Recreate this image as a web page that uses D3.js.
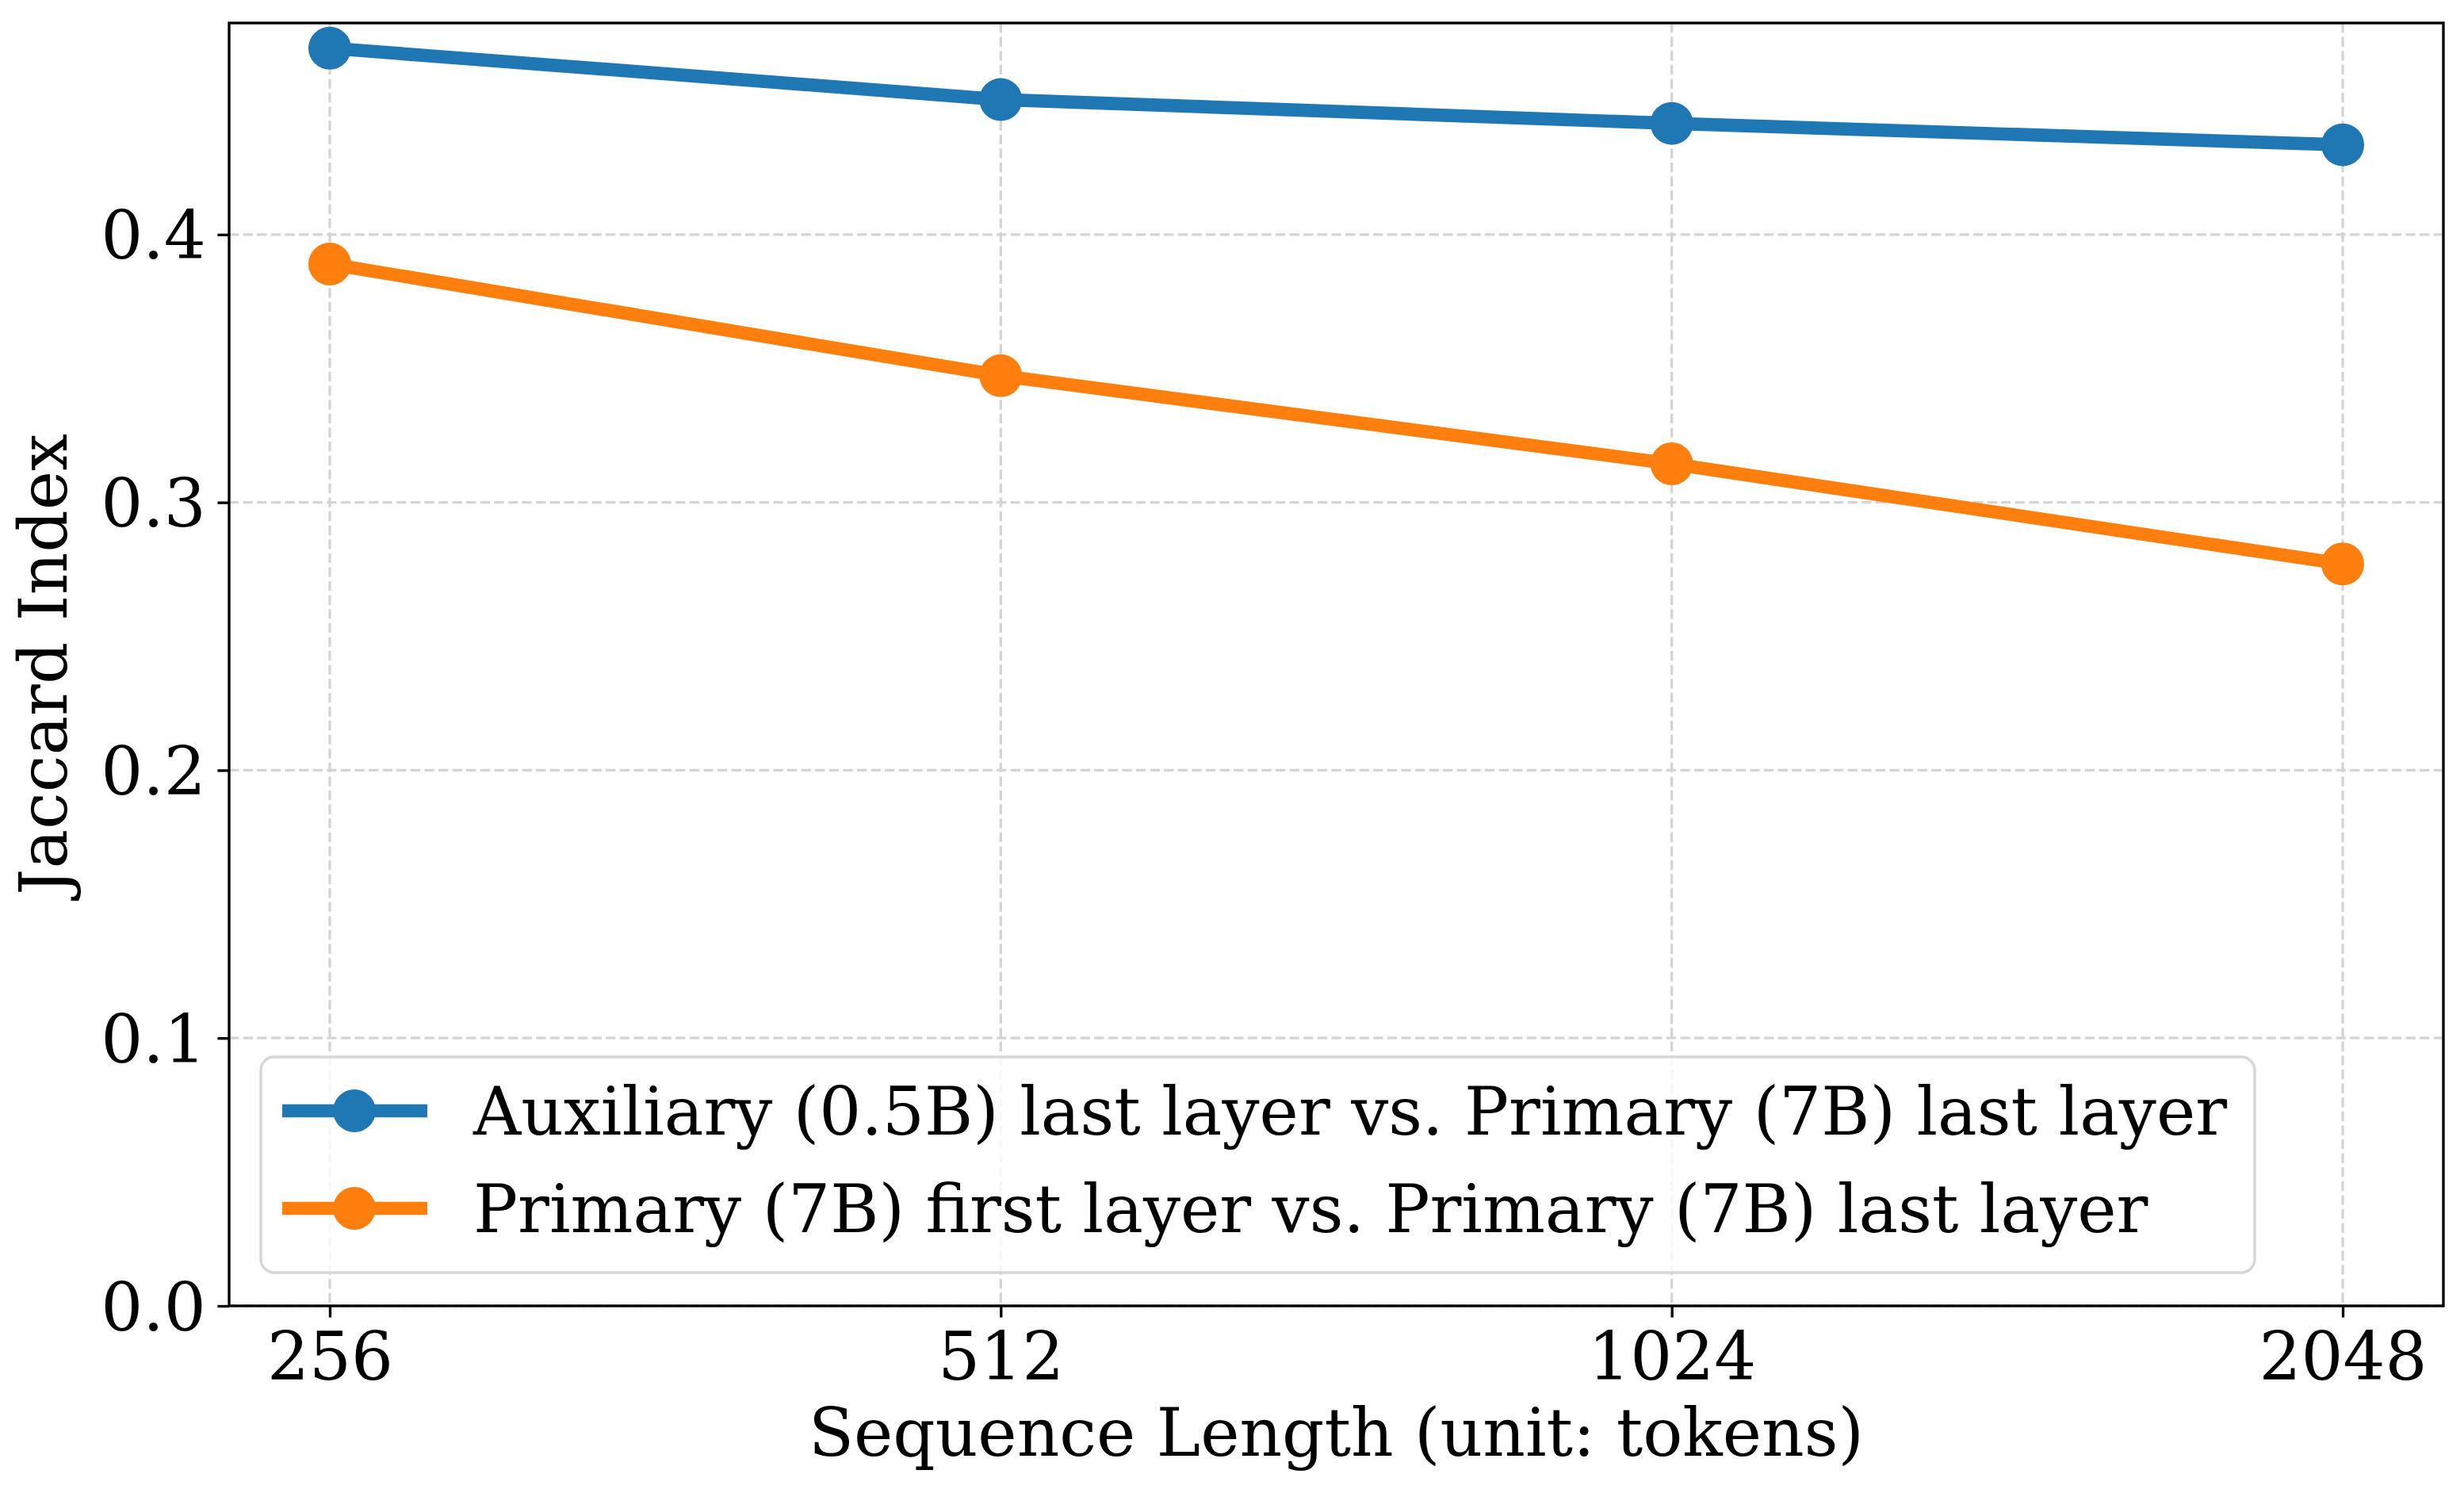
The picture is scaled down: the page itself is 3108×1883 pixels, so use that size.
<!DOCTYPE html>
<html>
<head>
<meta charset="utf-8">
<script src="https://cdn.jsdelivr.net/npm/d3@7"></script>
<style>
  html, body { margin: 0; padding: 0; background: #fff; }
  svg { display: block; }
  text { font-family: "DejaVu Serif", serif; fill: #000; }
</style>
</head>
<body>
<script>
const categories = ["256", "512", "1024", "2048"];
const auxiliaryValues = [0.4696, 0.4504, 0.4415, 0.4335];
const primaryValues = [0.3890, 0.3473, 0.3144, 0.2770];
const seriesNames = [
  "Auxiliary (0.5B) last layer vs. Primary (7B) last layer",
  "Primary (7B) first layer vs. Primary (7B) last layer"
];
const seriesColors = ["#1f77b4", "#ff7f0e"];
const yTicks = [0.0, 0.1, 0.2, 0.3, 0.4];
const xLabel = "Sequence Length (unit: tokens)";
const yLabel = "Jaccard Index";

(function () {
const W = 3108, H = 1883;
const pL = 289, pR = 3082, pT = 29, pB = 1647;
const FS = 83.33;
const LW = 3.33;

const svg = d3.select("body").append("svg")
  .attr("width", W).attr("height", H)
  .attr("viewBox", `0 0 ${W} ${H}`);
svg.append("rect").attr("width", W).attr("height", H).attr("fill", "#fff");

const yMax = d3.max(auxiliaryValues) * 1.02;
const x = d3.scaleLinear().domain([-0.15, categories.length - 1 + 0.15]).range([pL, pR]);
const y = d3.scaleLinear().domain([0, yMax]).range([pB, pT]);

// grid
const grid = svg.append("g");
grid.selectAll("line.gy").data(yTicks).enter().append("line")
  .attr("x1", pL).attr("x2", pR)
  .attr("y1", d => y(d)).attr("y2", d => y(d))
  .attr("stroke", "#d4d4d4").attr("stroke-width", 3.3)
  .attr("stroke-dasharray", "12.3,5.3");
grid.selectAll("line.gx").data(categories).enter().append("line")
  .attr("x1", (d, i) => x(i)).attr("x2", (d, i) => x(i))
  .attr("y1", pT).attr("y2", pB)
  .attr("stroke", "#d4d4d4").attr("stroke-width", 3.3)
  .attr("stroke-dasharray", "12.3,5.3");

// axes
const xAxis = d3.axisBottom(x)
  .tickValues(d3.range(categories.length))
  .tickFormat(i => categories[i])
  .tickSize(14.6).tickPadding(14.6);
const yAxis = d3.axisLeft(y)
  .tickValues(yTicks)
  .tickFormat(d3.format(".1f"))
  .tickSize(14.6).tickPadding(14.6);

const gx = svg.append("g").attr("transform", `translate(0,${pB})`).call(xAxis);
const gy = svg.append("g").attr("transform", `translate(${pL},0)`).call(yAxis);
[gx, gy].forEach(g => {
  g.select(".domain").remove();
  g.selectAll(".tick line").attr("stroke", "#000").attr("stroke-width", LW);
  g.selectAll(".tick text").attr("font-size", FS).attr("font-family", "DejaVu Serif").attr("fill", "#000");
});
gx.selectAll(".tick text").attr("dy", "0.76em");
gy.selectAll(".tick text").attr("dy", "0.36em");

// series
const series = [auxiliaryValues, primaryValues];
const line = d3.line().x((d, i) => x(i)).y(d => y(d));
series.forEach((vals, s) => {
  svg.append("path").datum(vals)
    .attr("d", line)
    .attr("fill", "none")
    .attr("stroke", seriesColors[s])
    .attr("stroke-width", 16.7)
    .attr("stroke-linejoin", "round")
    .attr("stroke-linecap", "butt");
  svg.selectAll(null).data(vals).enter().append("circle")
    .attr("cx", (d, i) => x(i)).attr("cy", d => y(d))
    .attr("r", 27).attr("fill", seriesColors[s]);
});

// spines
svg.append("rect")
  .attr("x", pL).attr("y", pT)
  .attr("width", pR - pL).attr("height", pB - pT)
  .attr("fill", "none").attr("stroke", "#000").attr("stroke-width", LW);

// legend
const lg = svg.append("g");
lg.append("rect")
  .attr("x", 329).attr("y", 1333)
  .attr("width", 2844 - 329).attr("height", 1605 - 1333)
  .attr("rx", 17).attr("ry", 17)
  .attr("fill", "#fff").attr("fill-opacity", 0.8)
  .attr("stroke", "#d6d6d6").attr("stroke-width", LW);
const rowY = [1401, 1524];
seriesNames.forEach((name, s) => {
  lg.append("line")
    .attr("x1", 356).attr("x2", 539)
    .attr("y1", rowY[s]).attr("y2", rowY[s])
    .attr("stroke", seriesColors[s]).attr("stroke-width", 16.7);
  lg.append("circle").attr("cx", 447).attr("cy", rowY[s]).attr("r", 27).attr("fill", seriesColors[s]);
  lg.append("text")
    .attr("x", 597).attr("y", rowY[s])
    .attr("dy", "0.36em")
    .attr("font-size", FS)
    .text(name);
});

// axis labels
svg.append("text")
  .attr("x", (pL + pR) / 2).attr("y", 1836)
  .attr("text-anchor", "middle")
  .attr("font-size", FS)
  .text(xLabel);
svg.append("text")
  .attr("transform", `translate(84,${(pT + pB) / 2}) rotate(-90)`)
  .attr("text-anchor", "middle")
  .attr("font-size", FS)
  .text(yLabel);
})();
</script>
</body>
</html>
